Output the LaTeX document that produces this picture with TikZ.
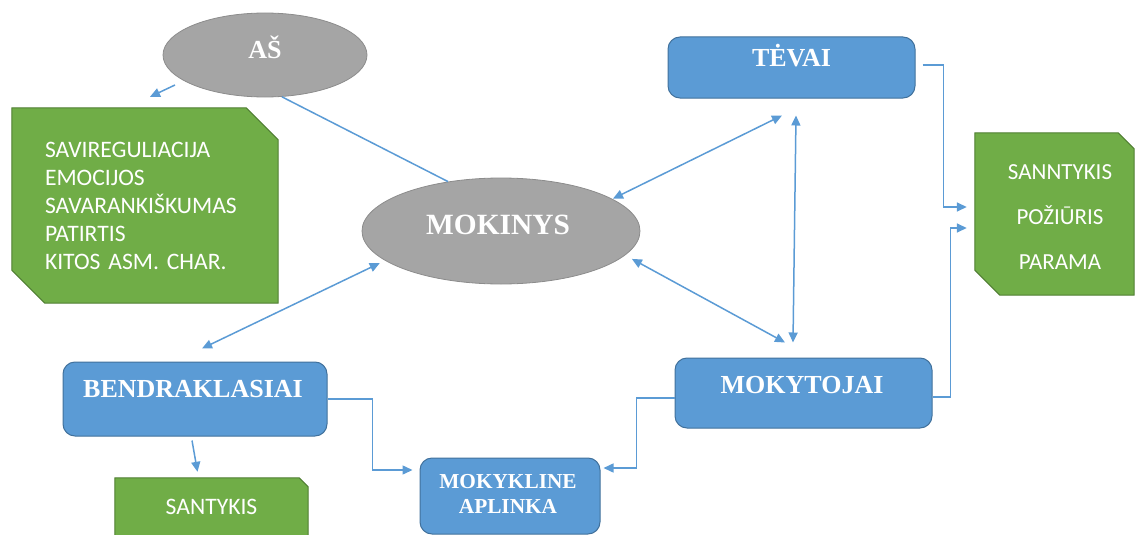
\documentclass[tikz,border=0pt]{standalone}
\usepackage{fontspec}
\setmainfont{Liberation Serif}
\newfontfamily\calfont{Carlito}
\usetikzlibrary{shapes.geometric,arrows.meta,calc}
\pgfdeclarelayer{bg}
\pgfsetlayers{bg,main}
\definecolor{blueF}{HTML}{5B9BD5}
\definecolor{blueD}{HTML}{41719C}
\definecolor{grayF}{HTML}{A5A5A5}
\definecolor{grayD}{HTML}{8C8C8C}
\definecolor{greenF}{HTML}{70AD47}
\definecolor{greenD}{HTML}{507E32}
\definecolor{lineC}{HTML}{5B9BD5}
\newcommand\snipbox[3]{\filldraw[gpoly] (#1.north west) -- ([xshift=-#2]#1.north east) -- ([yshift=-#2]#1.north east) -- (#1.south east) -- ([xshift=#3]#1.south west) -- ([yshift=#3]#1.south west) -- cycle;}
\begin{document}
\begin{tikzpicture}[x=1pt,y=-1pt,
  bbox/.style={rectangle, rounded corners=12pt, fill=blueF, draw=blueD, line width=1pt, inner sep=0pt},
  ell/.style={ellipse, fill=grayF, draw=grayD, line width=0.8pt, inner sep=0pt},
  btxt/.style={text=white, font=\bfseries\fontsize{26}{26}\selectfont, inner sep=0pt, text height=17.2pt, text depth=0pt},
  gtxt/.style={text=white, font=\calfont\fontsize{23.6}{28}\selectfont},
  gnode/.style={rectangle, inner sep=0pt, draw=none},
  gpoly/.style={fill=greenF, draw=greenD, line width=1pt},
  arr/.style={draw=lineC, line width=1.5pt, -{Triangle[length=10pt,width=9pt]}},
  darr/.style={draw=lineC, line width=1.5pt, {Triangle[length=10pt,width=9pt]}-{Triangle[length=10pt,width=9pt]}},
  pline/.style={draw=lineC, line width=1.5pt}
]
\useasboundingbox (0,0) rectangle (1135,535);

% ellipses
\node[ell, minimum width=204pt, minimum height=84pt,
  label={[btxt, yshift=5pt]center:AŠ}] (as) at (265,55) {};
\node[ell, minimum width=278pt, minimum height=106pt,
  label={[btxt, font=\bfseries\fontsize{29.4}{29.4}\selectfont, text height=19.4pt, xshift=-3pt, yshift=6pt]center:MOKINYS}] (mokinys) at (501,231) {};

% blue boxes
\node[bbox, minimum width=247pt, minimum height=61pt,
  label={[btxt, yshift=9.5pt]center:TĖVAI}] (tevai) at (791.5,67.5) {};
\node[bbox, minimum width=257pt, minimum height=70pt,
  label={[btxt, xshift=-1.5pt, yshift=8pt]center:MOKYTOJAI}] (mokytojai) at (803.5,393) {};
\node[bbox, minimum width=264pt, minimum height=74pt,
  label={[btxt, xshift=-2pt, yshift=10pt]center:BENDRAKLASIAI}] (bendr) at (195,399) {};
\node[bbox, minimum width=180pt, minimum height=76pt,
  label={[text=white, inner sep=0pt, font=\bfseries\fontsize{21.3}{25}\selectfont, align=center, xshift=-2pt, yshift=2pt]center:MOKYKLINE\\APLINKA}] (mokykl) at (510,496) {};

% green boxes
\node[gnode, gtxt, minimum width=266pt, minimum height=195pt, inner xsep=33pt,
  text width=200pt, align=left] (greenL) at (145,205.5)
  {SAVIREGULIACIJA\\EMOCIJOS\\SAVARANKIŠKUMAS\\PATIRTIS\\KITOS ASM. CHAR.};
\node[gnode, minimum width=159pt, minimum height=162pt,
  label={[gtxt, align=center, font=\calfont\fontsize{23}{45}\selectfont, xshift=5.5pt, yshift=-3pt]center:SANNTYKIS\\POŽIŪRIS\\PARAMA}] (greenR) at (1054.5,214) {};
\node[gnode, minimum width=193pt, minimum height=66pt,
  label={[gtxt, yshift=4pt]center:SANTYKIS}] (santykis) at (211.5,511) {};

\begin{pgfonlayer}{bg}
\snipbox{greenL}{32pt}{33pt}
\snipbox{greenR}{16pt}{25pt}
\snipbox{santykis}{9pt}{9pt}
\end{pgfonlayer}

% connectors
\draw[pline] (as.-68) -- (mokinys.137);
\draw[arr] ([shift={(-90,30)}]as.center) -- ([shift={(5,-11)}]greenL.north);
\draw[darr] ([shift={(3,1)}]mokinys.17) -- ([shift={(-9.5,17)}]tevai.south);
\draw[darr] ([shift={(9,2)}]mokinys.-12) -- ([shift={(-18.5,-15)}]mokytojai.north);
\draw[darr] ([shift={(4.5,17)}]tevai.south) -- ([shift={(-10.5,-15)}]mokytojai.north);
\draw[darr] ([shift={(-7,1.5)}]mokinys.195) -- ([shift={(7,-13)}]bendr.north);
\draw[arr] ([shift={(-3,4)}]bendr.south) -- ([shift={(-14,-6)}]santykis.north);
\draw[arr] (bendr.east) -- ++(45,0) |- ([shift={(-7,-26)}]mokykl.west);
\draw[arr] ([shift={(0,5)}]mokytojai.west) -- ++(-38,0) |- ([shift={(3,-28)}]mokykl.east);
\draw[arr] ([shift={(7,-2.5)}]tevai.east) -- ++(21,0) |- ([shift={(-8,-7)}]greenR.west);
\draw[arr] ([shift={(0,4)}]mokytojai.east) -- ++(18,0) |- ([shift={(-8,14)}]greenR.west);
\end{tikzpicture}
\end{document}
